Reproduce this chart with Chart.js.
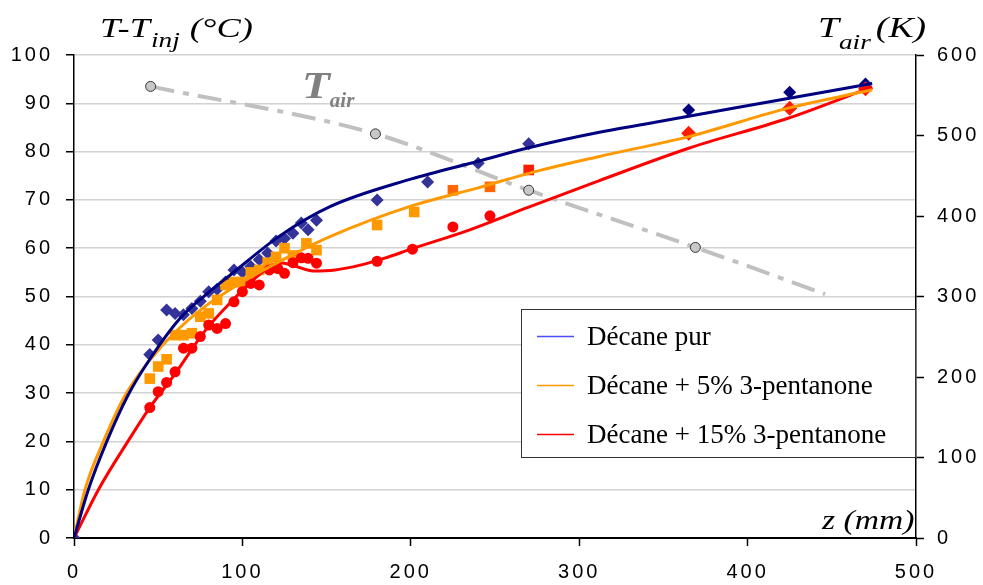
<!DOCTYPE html>
<html lang="fr">
<head>
<meta charset="UTF-8">
<title>T-Tinj en fonction de z</title>
<script src="https://cdn.jsdelivr.net/npm/chart.js"></script>
<style>
  html, body { margin: 0; padding: 0; background: #fff; }
  #wrap { width: 983px; height: 585px; }
</style>
</head>
<body>
<div id="wrap"><canvas id="c" width="983" height="585"></canvas></div>
<script>
// measured points (z in mm, T-Tinj in °C)
const decX = [0, 45, 50, 55, 60, 65, 70, 75, 80, 85, 90, 95, 100, 105, 110, 115, 120, 125, 130, 135, 139, 144, 180, 210, 240, 270, 365, 425, 470];
const decY = [0, 38, 41, 47.2, 46.5, 46.2, 47.5, 49, 51, 51.5, 53, 55.5, 55, 56.2, 57.6, 59, 61.5, 62, 63.1, 65.2, 63.8, 65.8, 70, 73.7, 77.6, 81.6, 88.6, 92.3, 94];

const p5X = [45, 50, 55, 60, 65, 70, 75, 80, 85, 90, 95, 100, 105, 110, 115, 120, 125, 130, 138, 144, 180, 202, 225, 247, 270, 365, 425, 470];
const p5Y = [33, 35.5, 37, 42, 42, 42.4, 45.8, 46.5, 49.3, 52.4, 53, 53, 55, 55.5, 57, 58.2, 60, 58.5, 61, 59.6, 64.8, 67.5, 72, 72.7, 76.2, 83.8, 89, 93];

const p15X = [45, 50, 55, 60, 65, 70, 75, 80, 85, 90, 95, 100, 105, 110, 116, 121, 125, 130, 135, 139, 144, 180, 201, 225, 247];
const p15Y = [27, 30.3, 32.2, 34.4, 39.3, 39.3, 41.7, 44.1, 43.4, 44.4, 48.9, 51, 52.7, 52.4, 55.5, 55.8, 54.8, 57, 58, 57.9, 56.9, 57.3, 59.8, 64.4, 66.7];

// fitted curves
const decFitX = [0, 8.5, 19.5, 32, 45, 63, 78, 93, 122, 152, 200, 240, 270, 312, 365, 424, 474];
const decFitY = [0, 10, 20, 29.5, 37, 45.5, 50.3, 54.5, 62.5, 68.6, 74.3, 78, 80.8, 84, 87.3, 91, 94.1];
const p5FitX = [0, 6.5, 17.5, 30, 45, 60, 78, 100, 125, 152, 200, 240, 270, 312, 365, 424, 474];
const p5FitY = [0, 10, 20, 29.3, 36.8, 42.6, 48, 53, 57.8, 62.4, 68.7, 72.5, 75.5, 79, 83.1, 89, 92.8];
const p15FitX = [0, 14.5, 32, 45, 60, 78, 95, 110, 122, 132, 142, 155, 170, 185, 200, 235, 270, 312, 365, 424, 474];
const p15FitY = [0, 10, 20, 27, 34, 43, 49.5, 54.5, 57, 56.2, 55.3, 55.5, 56.5, 58, 59.8, 63.8, 68.5, 74, 80.7, 86.9, 93.4];

// air temperature (K), right axis
const tairX = [45.5, 179, 270, 369, 446];
const tairY = [561, 502, 432, 361, 303];

const xTicks = [0, 100, 200, 300, 400, 500];
const legendNames = ['Décane pur', 'Décane + 5% 3-pentanone', 'Décane + 15% 3-pentanone'];

const pts = (xs, ys) => xs.map((x, i) => ({ x: x, y: ys[i] }));
const serif = '"Liberation Serif", "Times New Roman", serif';

// draws text stretched horizontally, returns the x where it ends
function txt(ctx, s, x, y, font, color, sx) {
  ctx.save();
  ctx.letterSpacing = '0px';
  ctx.font = font;
  ctx.fillStyle = color;
  ctx.textAlign = 'left';
  ctx.textBaseline = 'alphabetic';
  const w = ctx.measureText(s).width * sx;
  ctx.translate(x, y);
  ctx.scale(sx, 1);
  ctx.fillText(s, 0, 0);
  ctx.restore();
  return x + w;
}

const overlay = {
  id: 'overlay',
  beforeDraw(chart) {
    chart.ctx.letterSpacing = '3px';
  },
  afterDraw(chart) {
    const ctx = chart.ctx;
    const a = chart.chartArea;

    // axis titles
    let x = txt(ctx, 'T-T', 100, 37, 'italic 28px ' + serif, '#000', 1.3);
    x = txt(ctx, 'inj', x + 1, 47, 'italic 21px ' + serif, '#000', 1.3);
    txt(ctx, '(°C)', x + 10, 37, 'italic 28px ' + serif, '#000', 1.3);

    x = txt(ctx, 'T', 818, 37, 'italic 29px ' + serif, '#000', 1.3);
    x = txt(ctx, 'air', x, 49, 'italic 21px ' + serif, '#000', 1.3);
    txt(ctx, '(K)', x + 5, 37, 'italic 29px ' + serif, '#000', 1.3);

    txt(ctx, 'z (mm)', 822, 529, 'italic 28px ' + serif, '#000', 1.2);

    x = txt(ctx, 'T', 302, 98, 'bold italic 38px ' + serif, '#808080', 1.2);
    txt(ctx, 'air', x, 107, 'bold italic 21px ' + serif, '#808080', 1.0);

    // legend box
    const lx = 521, ly = 309, lw = a.right - lx, lh = 149;
    ctx.save();
    ctx.setLineDash([]);
    ctx.letterSpacing = '0px';
    ctx.fillStyle = '#fff';
    ctx.fillRect(lx, ly, lw, lh);
    ctx.strokeStyle = '#333';
    ctx.lineWidth = 1;
    ctx.strokeRect(lx + 0.5, ly + 0.5, lw - 1, lh - 1);
    const cols = ['#4d4dff', '#ff9900', '#ff0000'];
    legendNames.forEach((name, i) => {
      const by = 345 + i * 49;
      ctx.strokeStyle = cols[i];
      ctx.lineWidth = 1.5;
      ctx.beginPath();
      ctx.moveTo(537, by - 8.5);
      ctx.lineTo(574, by - 8.5);
      ctx.stroke();
      txt(ctx, name, 587, by, '27px ' + serif, '#000', 1.0);
    });
    ctx.restore();
  }
};

const tickFont = { family: '"Liberation Sans", Arial, sans-serif', size: 20 };

new Chart(document.getElementById('c'), {
  type: 'scatter',
  data: {
    datasets: [
      {
        label: 'fit pur', data: pts(decFitX, decFitY), showLine: true,
        borderColor: '#000080', borderWidth: 3, pointRadius: 0,
        cubicInterpolationMode: 'monotone', order: 1
      },
      {
        label: 'fit 5%', data: pts(p5FitX, p5FitY), showLine: true,
        borderColor: '#ff9900', borderWidth: 3, pointRadius: 0,
        cubicInterpolationMode: 'monotone', order: 2
      },
      {
        label: 'fit 15%', data: pts(p15FitX, p15FitY), showLine: true,
        borderColor: '#ff0000', borderWidth: 3, pointRadius: 0,
        cubicInterpolationMode: 'monotone', order: 3
      },
      {
        label: 'Tair', data: pts(tairX, tairY), yAxisID: 'y2', showLine: true,
        borderColor: '#c0c0c0', borderWidth: 4, borderDash: [24, 9, 6, 9],
        cubicInterpolationMode: 'monotone',
        pointRadius: c => c.dataIndex === tairX.length - 1 ? 0 : 5,
        pointBackgroundColor: '#c8c8c8', pointBorderColor: '#333', pointBorderWidth: 1,
        order: 4
      },
      {
        label: legendNames[0], data: pts(decX, decY),
        pointStyle: 'rectRot', pointRadius: 6.5,
        pointBackgroundColor: c => c.raw && c.raw.x > 300 ? '#000080' : '#333399',
        pointBorderWidth: 0, order: 7
      },
      {
        label: legendNames[1], data: pts(p5X, p5Y),
        pointStyle: c => c.raw && c.raw.x > 300 ? 'rectRot' : 'rect',
        pointRadius: 7.5,
        pointBackgroundColor: c => {
          const x = c.raw ? c.raw.x : 0;
          return x > 260 ? '#ff1a00' : (x > 215 ? '#ff6600' : '#ff9900');
        },
        pointBorderWidth: 0, order: 6
      },
      {
        label: legendNames[2], data: pts(p15X, p15Y),
        pointStyle: 'circle', pointRadius: 5.5,
        pointBackgroundColor: '#ff0000', pointBorderWidth: 0, order: 5
      }
    ]
  },
  options: {
    responsive: false,
    animation: false,
    layout: { padding: { top: 55, right: 0, bottom: 0, left: 0 } },
    plugins: { legend: { display: false }, tooltip: { enabled: false } },
    scales: {
      x: {
        type: 'linear', min: 0, max: 500,
        afterBuildTicks: s => { s.ticks = xTicks.map(v => ({ value: v })); },
        ticks: { font: tickFont, color: '#000', padding: 14 },
        grid: { drawOnChartArea: false, tickLength: 8, tickColor: '#000', tickWidth: 1.5 },
        border: { color: '#000', width: 2 },
        afterFit: s => { s.height = 47; }
      },
      y: {
        position: 'left', min: 0, max: 100,
        ticks: { stepSize: 10, font: tickFont, color: '#000', padding: 13 },
        grid: { color: '#d2d2d2', lineWidth: 1.5, tickLength: 8, tickColor: '#000', tickWidth: 1.5 },
        border: { color: '#000', width: 1.5 },
        afterFit: s => { s.width = 74; }
      },
      y2: {
        position: 'right', min: 0, max: 600,
        ticks: { stepSize: 100, font: tickFont, color: '#000', padding: 13 },
        grid: { drawOnChartArea: false, tickLength: 8, tickColor: '#000', tickWidth: 1.5 },
        border: { color: '#000', width: 1.5 },
        afterFit: s => { s.width = 67; }
      }
    }
  },
  plugins: [overlay]
});
</script>
</body>
</html>
